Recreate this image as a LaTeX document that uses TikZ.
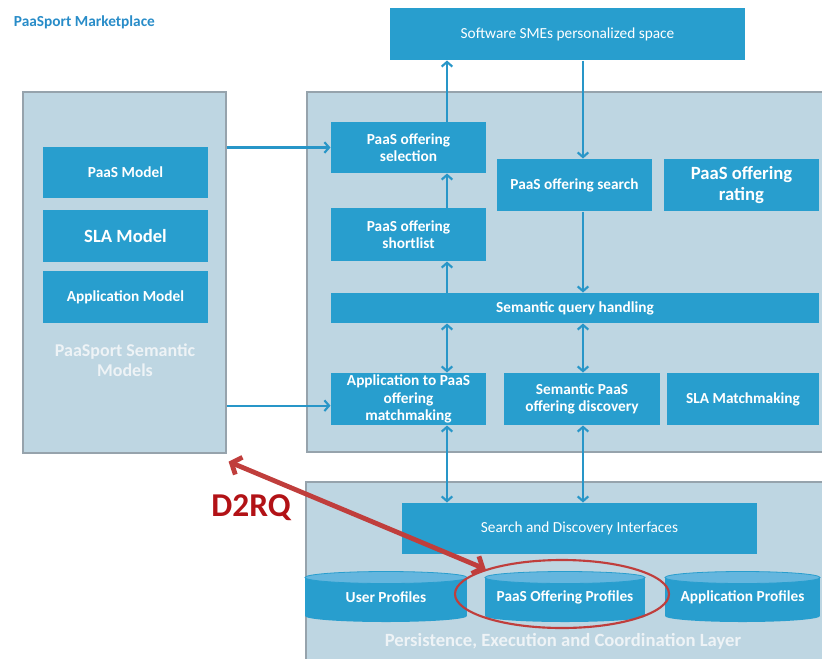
\documentclass[tikz,border=0pt]{standalone}
\usepackage{fontspec}
\setmainfont{Carlito}
\usetikzlibrary{arrows.meta,shapes.geometric}

\definecolor{boxblue}{RGB}{40,158,206}
\definecolor{capblue}{RGB}{100,182,222}
\definecolor{paneblue}{RGB}{190,214,226}
\definecolor{paneline}{RGB}{150,163,172}
\definecolor{panetext}{RGB}{238,243,246}
\definecolor{linkblue}{RGB}{40,150,200}
\definecolor{titleblue}{RGB}{40,140,200}
\definecolor{d2rqred}{RGB}{192,62,60}
\definecolor{d2rqtext}{RGB}{178,18,22}

\tikzset{every picture/.style={line width=0.75pt}}
\tikzset{
  boxsize/.style 2 args={minimum width=#1*0.75pt, minimum height=#2*0.75pt},
  pane/.style={draw=paneline, fill=paneblue, line width=0.9pt, inner sep=0pt},
  bluebox/.style={fill=boxblue, text=white, align=center, inner sep=0pt,
    font=\bfseries\fontsize{11.5}{13}\selectfont},
  plainbox/.style={bluebox, font=\fontsize{11.5}{13}\selectfont},
  bigbox/.style={bluebox, font=\bfseries\fontsize{14}{15.5}\selectfont},
  panelabel/.style={text=panetext, align=center, font=\bfseries\fontsize{13.5}{15}\selectfont},
  link/.style={draw=linkblue, line width=1.6pt, -{Straight Barb[length=3.5pt,width=8pt]}},
  duallink/.style={link, {Straight Barb[length=3.5pt,width=8pt]}-{Straight Barb[length=3.5pt,width=8pt]}},
  dbtop/.style={fill=capblue, draw=boxblue, line width=0.6pt},
}

\def \colA {447}
\def \colB {583}
\def \cylY {597}

\begin{document}
\begin{tikzpicture}[x=0.75pt,y=0.75pt,yscale=-1,xscale=1]
\useasboundingbox (0,0) rectangle (822,658);

% Text Node
\node (title) [anchor=west, text=titleblue, font=\bfseries\fontsize{11.5}{13}\selectfont] at (9,22) {PaaSport Marketplace};

%Shape: Rectangle [panes]
\node (leftpane) [pane, boxsize={203}{361}] at (124.5,272.5) {};
\node (midpane) [pane, boxsize={519}{360}] at (566.5,272) {};
\node (lowpane) [pane, boxsize={520}{180}] at (566,572) {};

% top box
\node (space) [plainbox, boxsize={355}{52}] at (567.5,34) {Software SMEs personalized space};

% semantic models
\node (paasmodel) [bluebox, boxsize={165}{51}] at (125.5,172.5) {PaaS Model};
\node (slamodel) [bigbox, boxsize={165}{52}] at (125.5,236) {SLA Model};
\node (appmodel) [bluebox, boxsize={165}{52}] at (125.5,297) {Application Model};
% Text Node
\node (semlabel) [panelabel] at (125,360) {PaaSport Semantic\\Models};

% marketplace services
\node (selection) [bluebox, boxsize={155}{51}] at (408.5,147.5) {PaaS offering\\selection};
\node (shortlist) [bluebox, boxsize={155}{53}] at (408.5,234.5) {PaaS offering\\shortlist};
\node (search) [bluebox, boxsize={155}{52}] at (574.5,185) {PaaS offering search};
\node (rating) [bigbox, boxsize={155}{52}] at (741.5,185) {PaaS offering\\rating};
\node (query) [bluebox, boxsize={488}{30}] at (575,308) {Semantic query handling};
\node (match) [bluebox, boxsize={155}{52}] at (408.5,399) {Application to PaaS\\offering\\matchmaking};
\node (discovery) [bluebox, boxsize={156}{52}] at (582,399) {Semantic PaaS\\offering discovery};
\node (slamatch) [bluebox, boxsize={152}{52}] at (743,399) {SLA Matchmaking};

% persistence layer
\node (interfaces) [plainbox, boxsize={355}{51}] at (579.5,528.5) {Search and Discovery Interfaces};

%Shape: Can [profiles]
\fill [boxblue] (386,\cylY+19) ellipse (81 and 6);
\fill [boxblue] (565,\cylY+19) ellipse (80 and 6);
\fill [boxblue] (742.5,\cylY+19) ellipse (77.5 and 6);
\node (userdb) [bluebox, boxsize={162}{38}] at (386,\cylY) {User Profiles};
\node (paasdb) [bluebox, boxsize={160}{38}] at (565,\cylY) {PaaS Offering Profiles};
\node (appdb) [bluebox, boxsize={155}{38}] at (742.5,\cylY) {Application Profiles};
\draw [dbtop] (userdb.north) ellipse (81 and 6);
\draw [dbtop] (paasdb.north) ellipse (80 and 6);
\draw [dbtop] (appdb.north) ellipse (77.5 and 6);

% Text Node
\node (layerlabel) [text=panetext, font=\bfseries\fontsize{14}{16}\selectfont] at (563,641) {Persistence, Execution and Coordination Layer};

%Shape: Ellipse [highlight]
\node (hilite) [ellipse, draw=d2rqred, line width=1.6pt, boxsize={214}{68}] at (562,594) {};

% columns for the vertical links
\coordinate (cA) at (\colA,0);
\coordinate (cB) at (\colB,0);

% Connectors
\draw [link] (selection.north -| cA) -- (space.south -| cA);
\draw [link] (space.south -| cB) -- (search.north -| cB);
\draw [link] (shortlist.north -| cA) -- (selection.south -| cA);
\draw [link] (query.north -| cA) -- (shortlist.south -| cA);
\draw [link] (search.south -| cB) -- (query.north -| cB);
\draw [duallink] (query.south -| cA) -- (match.north -| cA);
\draw [duallink] (query.south -| cB) -- (discovery.north -| cB);
\draw [duallink] (match.south -| cA) -- (interfaces.north -| cA);
\draw [duallink] (discovery.south -| cB) -- (interfaces.north -| cB);
\draw [link] (leftpane.east |- selection.west) -- (selection.west);
\draw [link] ([yshift=5pt]leftpane.east |- match.west) -- ([yshift=5pt]match.west);

% D2RQ mapping
\draw [d2rqred, line width=3.6pt, {Straight Barb[length=6pt,width=14pt]}-{Straight Barb[length=6pt,width=14pt]}] ([xshift=1.5pt,yshift=6pt]leftpane.south east) -- (hilite.162);
\node (d2rq) [text=d2rqtext, font=\bfseries\fontsize{25}{28}\selectfont] at (251,508) {D2RQ};

\end{tikzpicture}
\end{document}
